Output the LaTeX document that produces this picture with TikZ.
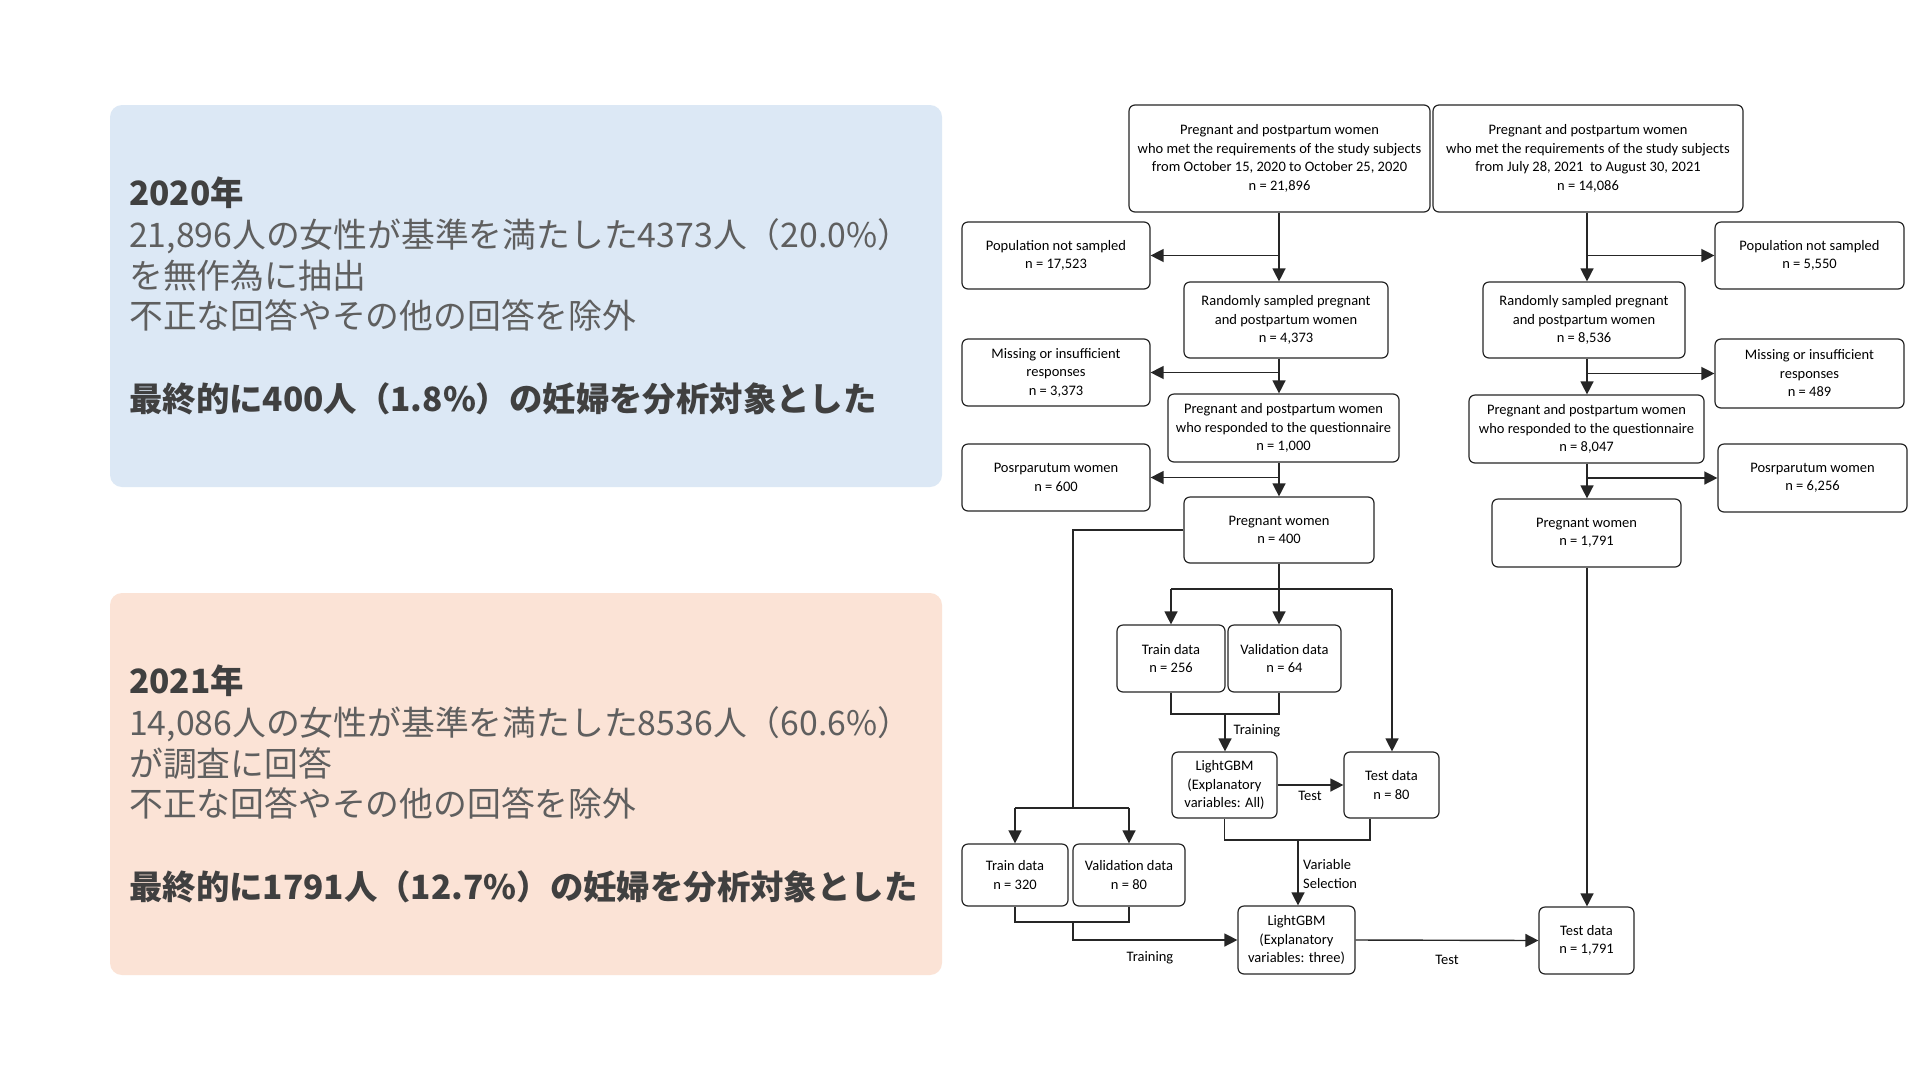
\documentclass[tikz,border=0pt]{standalone}
\usepackage{fontspec}
\usetikzlibrary{arrows.meta,calc}
\newfontfamily\cjk{Noto Sans CJK JP}
\newfontfamily\flowfont{Carlito}
\definecolor{bluefill}{HTML}{DCE8F5}
\definecolor{pinkfill}{HTML}{FBE3D6}
\definecolor{txtgray}{HTML}{5F5F5F}
\definecolor{txtdark}{HTML}{404040}
\begin{document}
\begin{tikzpicture}[x=1pt,y=-1pt,
 fbox/.style={draw=black!85, rounded corners=6pt, line width=1.2pt, align=center, inner sep=0pt, font=\flowfont\fontsize{14.5}{18.5}\selectfont},
 conn/.style={line width=1.4pt, draw=black!85},
 arr/.style={conn, -{Triangle[length=13pt,width=13pt]}},
 lbl/.style={font=\flowfont\fontsize{14.5}{18.5}\selectfont, inner sep=0pt, align=left},
 panel/.style={rounded corners=12pt, inner sep=0pt},
 paneltxt/.style={anchor=base west, inner sep=0pt, font=\cjk\fontsize{33.8}{41}\selectfont, text=txtgray},
 panelbold/.style={anchor=base west, inner sep=0pt, font=\cjk\bfseries\fontsize{33.4}{41}\selectfont, text=txtdark}]
\useasboundingbox (0,0) rectangle (1920,1080);
\fill[white] (0,0) rectangle (1920,1080);

% left panels
\node[panel, fill=bluefill, minimum width=832pt, minimum height=382pt] (bluepanel) at (526,296) {};
\node[panel, fill=pinkfill, minimum width=832pt, minimum height=382pt] (pinkpanel) at (526,784) {};

\node[panelbold] (b1) at (129,205) {2020年};
\node[paneltxt] (b2) at (129,247) {21,896人の女性が基準を満たした4373人（20.0\%）};
\node[paneltxt] (b3) at (129,288) {を無作為に抽出};
\node[paneltxt] (b4) at (129,328) {不正な回答やその他の回答を除外};
\node[panelbold] (b5) at (129,411) {最終的に400人（1.8\%）の妊婦を分析対象とした};

\node[panelbold] (p1) at (129,693) {2021年};
\node[paneltxt] (p2) at (129,735) {14,086人の女性が基準を満たした8536人（60.6\%）};
\node[paneltxt] (p3) at (129,776) {が調査に回答};
\node[paneltxt] (p4) at (129,816) {不正な回答やその他の回答を除外};
\node[panelbold] (p5) at (129,899) {最終的に1791人（12.7\%）の妊婦を分析対象とした};

% flowchart nodes 2020
\node[fbox, minimum width=301pt, minimum height=107pt] (A1) at (1279.5,158.5) {Pregnant and postpartum women\\who met the requirements of the study subjects\\from October 15, 2020 to October 25, 2020\\n = 21,896};
\node[fbox, minimum width=188pt, minimum height=67pt] (PNS1) at (1056,255.5) {Population not sampled\\n = 17,523};
\node[fbox, minimum width=204pt, minimum height=76pt] (RS1) at (1286,320) {Randomly sampled pregnant\\and postpartum women\\n = 4,373};
\node[fbox, minimum width=188pt, minimum height=67pt] (MIS1) at (1056,372.5) {Missing or insufficient\\responses\\n = 3,373};
\node[fbox, minimum width=231pt, minimum height=68pt] (RES1) at (1283.5,428) {Pregnant and postpartum women\\who responded to the questionnaire\\n = 1,000};
\node[fbox, minimum width=188pt, minimum height=67pt] (POS1) at (1056,477.5) {Posrparutum women\\n = 600};
\node[fbox, minimum width=190pt, minimum height=66pt] (PW1) at (1279,530) {Pregnant women\\n = 400};
\node[fbox, minimum width=108pt, minimum height=67pt] (TR1) at (1171,658.5) {Train data\\n = 256};
\node[fbox, minimum width=113pt, minimum height=67pt] (VA1) at (1284.5,658.5) {Validation data\\n = 64};
\node[fbox, minimum width=105pt, minimum height=66pt] (LG1) at (1224.5,785) {LightGBM\\(Explanatory\\variables: All)};
\node[fbox, minimum width=95pt, minimum height=66pt] (TE1) at (1391.5,785) {Test data\\n = 80};
\node[fbox, minimum width=106pt, minimum height=62pt] (TR2) at (1015,875) {Train data\\n = 320};
\node[fbox, minimum width=112pt, minimum height=62pt] (VA2) at (1129,875) {Validation data\\n = 80};
\node[fbox, minimum width=117pt, minimum height=68pt] (LG2) at (1296.5,940) {LightGBM\\(Explanatory\\variables: three)};

% flowchart nodes 2021
\node[fbox, minimum width=310pt, minimum height=107pt] (A2) at (1588,158.5) {Pregnant and postpartum women\\who met the requirements of the study subjects\\from July 28, 2021~ to August 30, 2021\\n = 14,086};
\node[fbox, minimum width=189pt, minimum height=67pt] (PNS2) at (1809.5,255.5) {Population not sampled\\n = 5,550};
\node[fbox, minimum width=202pt, minimum height=76pt] (RS2) at (1584,320) {Randomly sampled pregnant\\and postpartum women\\n = 8,536};
\node[fbox, minimum width=189pt, minimum height=69pt] (MIS2) at (1809.5,373.5) {Missing or insufficient\\responses\\n = 489};
\node[fbox, minimum width=235pt, minimum height=68pt] (RES2) at (1586.5,429) {Pregnant and postpartum women\\who responded to the questionnaire\\n = 8,047};
\node[fbox, minimum width=189pt, minimum height=68pt] (POS2) at (1812.5,478) {Posrparutum women\\n = 6,256};
\node[fbox, minimum width=189pt, minimum height=68pt] (PW2) at (1586.5,533) {Pregnant women\\n = 1,791};
\node[fbox, minimum width=95pt, minimum height=67pt] (TE2) at (1586.5,940.5) {Test data\\n = 1,791};

% helper coordinates
\coordinate (t1) at (1279,0);
\coordinate (t2) at (1587,0);
\coordinate (s1) at (1279,589);
\coordinate (s1r) at (1392,589);
\coordinate (s2) at (1073,808);
\coordinate (b1) at (1225,714);
\coordinate (b2) at (1298,840);
\coordinate (b2r) at (1370,840);
\coordinate (b3) at (1073,922);

% 2020 connectors
\draw[arr] (A1.south -| t1) -- (t1 |- RS1.north);
\draw[arr] (t1 |- PNS1.east) -- (PNS1.east);
\draw[arr] (RS1.south -| t1) -- (t1 |- RES1.north);
\draw[arr] (t1 |- MIS1.east) -- (MIS1.east);
\draw[arr] (RES1.south -| t1) -- (t1 |- PW1.north);
\draw[arr] (t1 |- POS1.east) -- (POS1.east);
\draw[conn] (PW1.south -| t1) -- (s1);
\draw[conn] (TR1.north |- s1) -- (s1r);
\draw[arr] (TR1.north |- s1) -- (TR1.north);
\draw[arr] (s1) -- (s1 |- VA1.north);
\draw[arr] (s1r) -- (s1r |- TE1.north);
\draw[conn] (PW1.west) -- (PW1.west -| s2) -- (s2);
\draw[conn] (TR2.north |- s2) -- (VA2.north |- s2);
\draw[arr] (TR2.north |- s2) -- (TR2.north);
\draw[arr] (VA2.north |- s2) -- (VA2.north);
\draw[conn] (TR1.south) -- (TR1.south |- b1) -- (b1 -| s1) -- (s1 |- VA1.south);
\draw[arr] (b1) -- (b1 |- LG1.north) node[lbl, anchor=west, pos=0.45, xshift=8pt] (lt1) {Training};
\draw[arr] (LG1.east) -- (TE1.west);
\node[lbl] (lx1) at (1310,796) {Test};
\draw[conn] (LG1.south) -- (LG1.south |- b2) -- (b2r) -- (b2r |- TE1.south);
\draw[arr] (b2) -- (b2 |- LG2.north);
\node[lbl, anchor=west] (lvs) at (1303,874) {Variable\\Selection};
\draw[conn] (TR2.south) -- (TR2.south |- b3) -- (VA2.south |- b3) -- (VA2.south);
\draw[arr] (b3) -- (b3 |- LG2.west) -- (LG2.west);
\node[lbl] (lt2) at (1150,958) {Training};
\draw[arr] (LG2.east) -- (TE2.west);
\node[lbl] (lx2) at (1447,960) {Test};

% 2021 connectors
\draw[arr] (A2.south -| t2) -- (t2 |- RS2.north);
\draw[arr] (t2 |- PNS2.west) -- (PNS2.west);
\draw[arr] (RS2.south -| t2) -- (t2 |- RES2.north);
\draw[arr] (t2 |- MIS2.west) -- (MIS2.west);
\draw[arr] (RES2.south -| t2) -- (t2 |- PW2.north);
\draw[arr] (t2 |- POS2.west) -- (POS2.west);
\draw[arr] (PW2.south -| t2) -- (t2 |- TE2.north);
\end{tikzpicture}
\end{document}
